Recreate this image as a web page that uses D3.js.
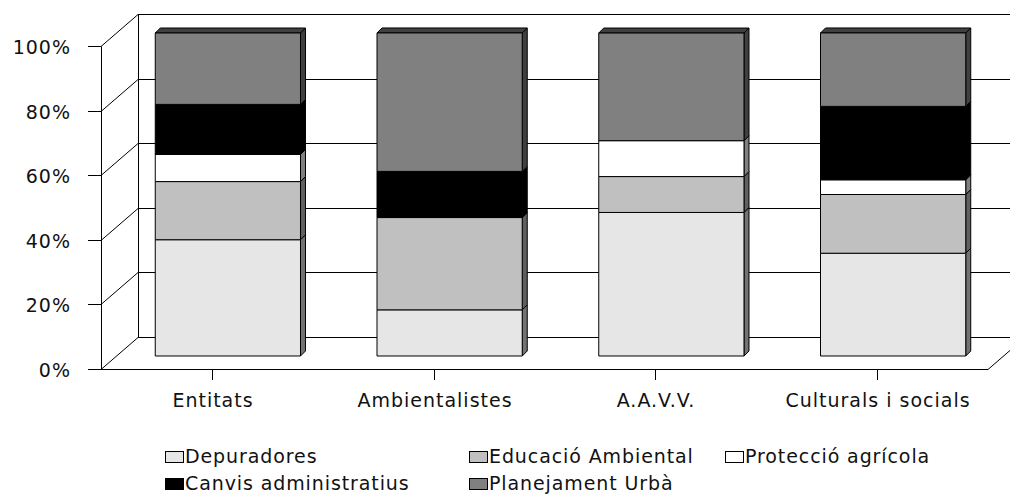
<!DOCTYPE html>
<meta charset="utf-8">
<script src="https://d3js.org/d3.v7.min.js"></script>
<style>
body { margin: 0; background: #fff; }
svg { display: block; }
text { font-family: "DejaVu Sans", Verdana, sans-serif; fill: #111; }
.axis text { font-size: 19px; letter-spacing: 1px; }
.legend text { font-size: 19px; letter-spacing: 0.9px; }
.grid line, .wall line { stroke: #000; stroke-width: 1px; }
</style>
<body>
<script>

// categories and stacked series (share of each group, %)
var categories = ["Entitats", "Ambientalistes", "A.A.V.V.", "Culturals i socials"];
var seriesNames = ["Depuradores", "Educació Ambiental", "Protecció agrícola", "Canvis administratius", "Planejament Urbà"];
var depuradores = [36.0, 14.29, 44.44, 31.82];
var educacio = [18.0, 28.57, 11.11, 18.18];
var proteccio = [8.4, 0, 11.11, 4.55];
var canvis = [15.5, 14.29, 0, 22.73];
var planejament = [22.1, 42.86, 33.33, 22.73];
var yTicks = [0, 20, 40, 60, 80, 100];
var colors = ["#e6e6e6", "#c0c0c0", "#ffffff", "#000000", "#808080"];

var seriesValues = [depuradores, educacio, proteccio, canvis, planejament];

var width = 1010,
    height = 495;

// 3D geometry: front plane, back wall offset, bar plane offset
var x0 = 101, x1 = 988, yBottom = 369, yTop = 46;
var wallDx = 37, wallDy = -32;
var barDx = 16, barDy = -13;
var depth = 5;

var svg = d3.select("body").append("svg")
    .attr("width", width)
    .attr("height", height);

var x = d3.scaleBand()
    .domain(categories)
    .range([x0, x1])
    .padding(0);

var y = d3.scaleLinear()
    .domain([0, 100])
    .range([yBottom, yTop]);

// walls and gridlines
var grid = svg.append("g").attr("class", "grid");

yTicks.forEach(function(t) {
  var yy = Math.round(y(t)) + 0.5;
  // back wall line
  grid.append("line")
      .attr("x1", x0 + wallDx).attr("x2", x1 + wallDx + 20)
      .attr("y1", yy + wallDy).attr("y2", yy + wallDy);
  // side wall diagonal
  grid.append("line")
      .attr("x1", x0).attr("y1", yy)
      .attr("x2", x0 + wallDx).attr("y2", yy + wallDy);
});

var wall = svg.append("g").attr("class", "wall");
// back wall left edge
wall.append("line")
    .attr("x1", x0 + wallDx + 0.5).attr("x2", x0 + wallDx + 0.5)
    .attr("y1", Math.round(y(100)) + wallDy + 0.5).attr("y2", Math.round(y(0)) + wallDy + 0.5);
// front value axis
wall.append("line")
    .attr("x1", x0 + 0.5).attr("x2", x0 + 0.5)
    .attr("y1", Math.round(y(100)) + 0.5).attr("y2", Math.round(y(0)) + 0.5);
// floor front edge
wall.append("line")
    .attr("x1", x0).attr("x2", x1)
    .attr("y1", Math.round(y(0)) + 0.5).attr("y2", Math.round(y(0)) + 0.5);
// floor right diagonal
wall.append("line")
    .attr("x1", x1).attr("y1", Math.round(y(0)) + 0.5)
    .attr("x2", x1 + wallDx).attr("y2", Math.round(y(0)) + 0.5 + wallDy);

// stacked 3D bars
var rows = categories.map(function(c, i) {
  var r = {category: c};
  seriesNames.forEach(function(s, j) { r[s] = seriesValues[j][i]; });
  return r;
});

var stack = d3.stack().keys(seriesNames);
var stacked = stack(rows);

var barW = x.bandwidth() * 0.655;

var bars = svg.append("g");

stacked.forEach(function(layer, j) {
  var fill = colors[j];
  var side = d3.color(fill);
  side = d3.rgb(side.r * 0.5, side.g * 0.5, side.b * 0.5);
  layer.forEach(function(d, i) {
    if (d[1] - d[0] <= 0) return;
    var bx = x(categories[i]) + (x.bandwidth() - barW) / 2 + barDx;
    var bxr = bx + barW;
    var yb = y(d[0]) + barDy;
    var yt = y(d[1]) + barDy;
    var g = bars.append("g")
        .attr("stroke", "#000")
        .attr("stroke-width", 1)
        .attr("stroke-linejoin", "round");
    // side face
    g.append("path")
        .attr("fill", side.formatHex())
        .attr("d", "M" + bxr + "," + yt + "L" + (bxr + depth) + "," + (yt - depth) +
                   "L" + (bxr + depth) + "," + (yb - depth) + "L" + bxr + "," + yb + "Z");
    // top face (only visible on the last segment)
    if (j === seriesNames.length - 1 || d[1] >= 99.9) {
      g.append("path")
          .attr("fill", side.formatHex())
          .attr("d", "M" + bx + "," + yt + "L" + (bx + depth) + "," + (yt - depth) +
                     "L" + (bxr + depth) + "," + (yt - depth) + "L" + bxr + "," + yt + "Z");
    }
    // front face
    g.append("rect")
        .attr("x", bx).attr("y", yt)
        .attr("width", barW).attr("height", yb - yt)
        .attr("fill", fill);
  });
});

// y axis ticks and labels
var yAxis = svg.append("g").attr("class", "axis");
yTicks.forEach(function(t) {
  var yy = Math.round(y(t)) + 0.5;
  yAxis.append("line")
      .attr("x1", x0 - 13).attr("x2", x0)
      .attr("y1", yy).attr("y2", yy)
      .attr("stroke", "#000");
  yAxis.append("text")
      .attr("x", 71)
      .attr("y", yy + 7.5)
      .attr("text-anchor", "end")
      .text(t + "%");
});

// x axis ticks and labels
var xAxis = svg.append("g").attr("class", "axis");
categories.forEach(function(c) {
  var cx = Math.round(x(c) + x.bandwidth() / 2) + 0.5;
  xAxis.append("line")
      .attr("x1", cx).attr("x2", cx)
      .attr("y1", yBottom).attr("y2", yBottom + 11)
      .attr("stroke", "#000");
  xAxis.append("text")
      .attr("x", cx + 0.5)
      .attr("y", 406.5)
      .attr("text-anchor", "middle")
      .text(c);
});

// legend
var legendPos = [[165, 451], [469, 451], [725, 451], [165, 478], [469, 478]];
var legend = svg.append("g").attr("class", "legend");
seriesNames.forEach(function(s, j) {
  var p = legendPos[j];
  legend.append("rect")
      .attr("x", p[0] + 0.5).attr("y", p[1] + 0.5)
      .attr("width", 18).attr("height", 11)
      .attr("fill", colors[j])
      .attr("stroke", "#000");
  legend.append("text")
      .attr("x", p[0] + 20)
      .attr("y", p[1] + 11.5)
      .text(s);
});

</script>
</body>
